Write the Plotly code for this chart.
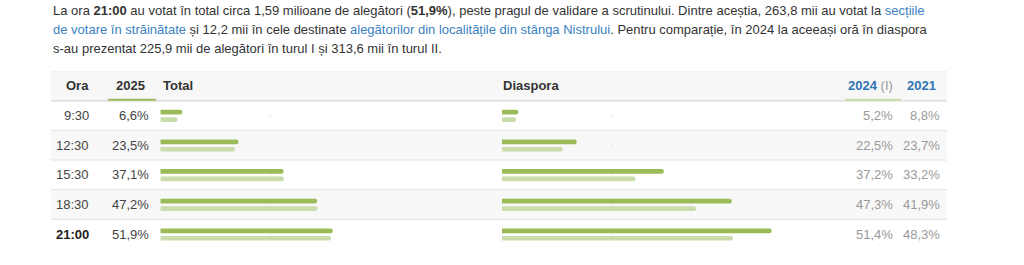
import plotly.graph_objects as go

# ---- data ----
hours = ["9:30", "12:30", "15:30", "18:30", "21:00"]
total_2025 = [6.6, 23.5, 37.1, 47.2, 51.9]
total_2024 = [5.2, 22.5, 37.2, 47.3, 51.4]
total_2021 = [8.8, 23.7, 33.2, 41.9, 48.3]
diaspora_2025 = [15.9, 73.0, 158.3, 224.7, 263.8]   # thousand voters
diaspora_2024 = [13.7, 59.3, 130.6, 189.8, 225.9]   # thousand voters
threshold_share = 0.33

header_cols = ["Ora", "2025", "Total", "Diaspora", "2024", "(I)", "2021"]

def fmt(v):
    return f"{v:.1f}".replace(".", ",") + "%"

W, H = 1024, 265
FONT = "Arial, 'Liberation Sans', Helvetica, sans-serif"
TXT = "#333333"
GRAY = "#999999"
BLUE = "#3a7fc1"
HBLUE = "#2f74b5"
DARK = "#9bbb59"
LIGHT = "#cadcab"

def px(x):
    return x / W

def py(y):
    return 1 - y / H

rows = list(range(len(hours)))

fig = go.Figure()

common = dict(orientation="h", hoverinfo="skip", showlegend=False,
              marker_line_width=0, marker_cornerradius=2)
fig.add_trace(go.Bar(x=total_2025, y=rows, width=0.16, offset=-0.195,
                     marker_color=DARK, xaxis="x", yaxis="y", **common))
fig.add_trace(go.Bar(x=total_2024, y=rows, width=0.157, offset=0.058,
                     marker_color=LIGHT, xaxis="x", yaxis="y", **common))
fig.add_trace(go.Bar(x=diaspora_2025, y=rows, width=0.16, offset=-0.195,
                     marker_color=DARK, xaxis="x2", yaxis="y", **common))
fig.add_trace(go.Bar(x=diaspora_2024, y=rows, width=0.157, offset=0.058,
                     marker_color=LIGHT, xaxis="x2", yaxis="y", **common))

shapes = []
L, R = px(51), px(947)
# header background
shapes.append(dict(type="rect", xref="paper", yref="y", x0=L, x1=R, y0=-1.5, y1=-0.5,
                   fillcolor="#f7f7f7", line_width=0, layer="below"))
# striped rows
for i in rows:
    if i % 2 == 1:
        shapes.append(dict(type="rect", xref="paper", yref="y", x0=L, x1=R,
                           y0=i - 0.5, y1=i + 0.5, fillcolor="#f8f8f8",
                           line_width=0, layer="below"))
# borders
shapes.append(dict(type="line", xref="paper", yref="y", x0=L, x1=R, y0=-1.5, y1=-1.5,
                   line=dict(color="#ececec", width=1)))
shapes.append(dict(type="line", xref="paper", yref="y", x0=L, x1=R, y0=-0.5, y1=-0.5,
                   line=dict(color="#e2e2e2", width=2)))
for i in rows[:-1]:
    shapes.append(dict(type="line", xref="paper", yref="y", x0=L, x1=R,
                       y0=i + 0.5, y1=i + 0.5, line=dict(color="#e2e2e2", width=1)))
# header underlines
shapes.append(dict(type="line", xref="paper", yref="y", x0=px(108), x1=px(156),
                   y0=-0.53, y1=-0.53, line=dict(color=DARK, width=2)))
shapes.append(dict(type="line", xref="paper", yref="y", x0=px(845), x1=px(901),
                   y0=-0.53, y1=-0.53, line=dict(color="#c9dea6", width=2)))
# faint threshold marks
for xr in ("x domain", "x2 domain"):
    for i in rows:
        shapes.append(dict(type="line", xref=xr, yref="y", x0=threshold_share,
                           x1=threshold_share, y0=i - 0.03, y1=i + 0.05,
                           line=dict(color="#e6e6e6", width=1), layer="below"))

ann = []
def A(x, y, text, xanchor="left", yref="paper", size=13, color=TXT):
    ann.append(dict(x=x, y=y, xref="paper", yref=yref, text=text, showarrow=False,
                    xanchor=xanchor, yanchor="middle",
                    font=dict(family=FONT, size=size, color=color)))

def link(t):
    return f"<span style='color:{BLUE}'>{t}</span>"

para = [
    "La ora <b>21:00</b> au votat în total circa 1,59 milioane de alegători (<b>51,9%</b>), "
    "peste pragul de validare a scrutinului. Dintre aceștia, 263,8 mii au votat la " + link("secțiile"),
    link("de votare în străinătate") + " și 12,2 mii în cele destinate "
    + link("alegătorilor din localitățile din stânga Nistrului")
    + ". Pentru comparație, în 2024 la aceeași oră în diaspora",
    "s-au prezentat 225,9 mii de alegători în turul I și 313,6 mii în turul II.",
]
for k, t in enumerate(para):
    A(px(51), py(11 + 19 * k), t, size=13)

# header row
hy = -1
A(px(91), hy, f"<b>{header_cols[0]}</b>", "right", "y")
A(px(147), hy, f"<b>{header_cols[1]}</b>", "right", "y")
A(px(161), hy, f"<b>{header_cols[2]}</b>", "left", "y")
A(px(501), hy, f"<b>{header_cols[3]}</b>", "left", "y")
A(px(895), hy, f"<span style='color:{HBLUE}'><b>{header_cols[4]}</b></span> "
               f"<span style='color:{GRAY}'>{header_cols[5]}</span>", "right", "y")
A(px(938), hy, f"<span style='color:{HBLUE}'><b>{header_cols[6]}</b></span>", "right", "y")

for i in rows:
    h = hours[i]
    A(px(91), i, f"<b>{h}</b>" if i == len(hours) - 1 else h, "right", "y",
      color="#222222" if i == len(hours) - 1 else "#444444")
    A(px(151), i, fmt(total_2025[i]), "right", "y", color="#444444")
    A(px(895), i, fmt(total_2024[i]), "right", "y", color=GRAY)
    A(px(942), i, fmt(total_2021[i]), "right", "y", color=GRAY)

y_top, y_bot = 71, 249
fig.update_layout(
    width=W, height=H,
    margin=dict(l=0, r=0, t=0, b=0),
    paper_bgcolor="white", plot_bgcolor="rgba(0,0,0,0)",
    barmode="overlay",
    showlegend=False,
    xaxis=dict(domain=[px(160.3), px(160.3 + 332.2)], range=[0, 100], visible=False,
               fixedrange=True, anchor="y"),
    xaxis2=dict(domain=[px(502), px(502 + 332.2)], range=[0, 325], visible=False,
                fixedrange=True, anchor="y"),
    yaxis=dict(domain=[py(y_bot), py(y_top)], range=[len(hours) - 0.5, -1.5],
               visible=False, fixedrange=True),
    shapes=shapes,
    annotations=ann,
)

fig.write_html("out.html", config={"displayModeBar": False})
